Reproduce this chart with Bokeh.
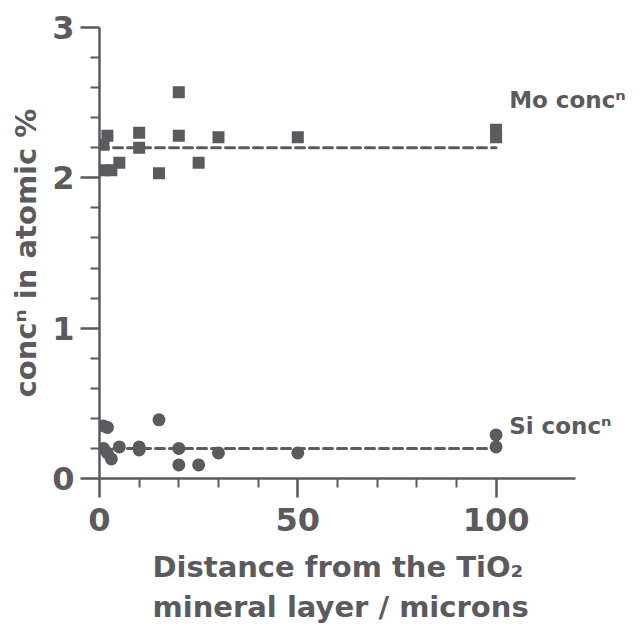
from bokeh.plotting import figure
from bokeh.models import FixedTicker, Label, Range1d, Title
from bokeh.embed import file_html
from bokeh.resources import INLINE

# ---- data ----
mo_x = [1, 2, 1, 3, 5, 10, 10, 15, 20, 20, 25, 30, 50, 100, 100]
mo_y = [2.22, 2.28, 2.05, 2.05, 2.10, 2.30, 2.20, 2.03, 2.57, 2.28, 2.10, 2.27, 2.27, 2.32, 2.27]
si_x = [1, 2, 1, 2, 3, 5, 10, 10, 15, 20, 20, 25, 30, 50, 100, 100]
si_y = [0.35, 0.34, 0.20, 0.17, 0.13, 0.21, 0.21, 0.19, 0.39, 0.20, 0.09, 0.09, 0.17, 0.17, 0.29, 0.21]
mean_x = [0, 100]
mo_mean = 2.20
si_mean = 0.20
x_major = [0, 50, 100]
x_minor = [10, 20, 30, 40, 60, 70, 80, 90]
y_major = [0, 1, 2, 3]
y_minor = [0.2, 0.4, 0.6, 0.8, 1.2, 1.4, 1.6, 1.8, 2.2, 2.4, 2.6, 2.8]
mo_label = "Mo concⁿ"
si_label = "Si concⁿ"
x_title = "Distance from the TiO₂\nmineral layer / microns"
y_title = "concⁿ in atomic %"

INK = "#5a5a5f"
FONT = "DejaVu Sans"

p = figure(output_backend="svg", toolbar_location=None,
           frame_width=533, frame_height=451,
           min_border_left=99, min_border_right=0,
           min_border_top=27, min_border_bottom=4,
           x_range=Range1d(0, 134.4), y_range=Range1d(0, 3))
p.outline_line_color = None
p.grid.visible = False
p.background_fill_color = "white"
p.border_fill_color = "white"

for ax in (p.xaxis[0], p.yaxis[0]):
    ax.axis_line_color = INK
    ax.axis_line_width = 2.5
    ax.major_tick_line_color = INK
    ax.major_tick_line_width = 2.5
    ax.minor_tick_line_color = INK
    ax.minor_tick_line_width = 2
    ax.major_tick_in = 0
    ax.minor_tick_in = 0
    ax.major_tick_out = 19
    ax.minor_tick_out = 9
    ax.major_label_text_font = FONT
    ax.major_label_text_font_style = "bold"
    ax.major_label_text_font_size = "32px"
    ax.major_label_text_color = INK
    ax.axis_label_text_font = FONT
    ax.axis_label_text_font_style = "bold"
    ax.axis_label_text_font_size = "29px"
    ax.axis_label_text_color = INK

p.xaxis[0].bounds = (0, 120)
p.xaxis[0].ticker = FixedTicker(ticks=x_major, minor_ticks=x_minor)
p.yaxis[0].ticker = FixedTicker(ticks=y_major, minor_ticks=y_minor)
p.xaxis[0].major_label_standoff = 10
p.yaxis[0].major_label_standoff = 6
p.yaxis[0].axis_label = y_title
p.yaxis[0].axis_label_standoff = 6

# two-line x-axis title, placed under the 0-120 axis
p.add_layout(Title(text=x_title, align="left", offset=53, standoff=32,
                   vertical_align="top", text_line_height=1.2,
                   text_font=FONT, text_font_style="bold",
                   text_font_size="29px", text_color=INK), "below")

p.line(mean_x, [mo_mean, mo_mean], line_color=INK, line_width=3,
       line_dash="9 5", line_cap="round")
p.line(mean_x, [si_mean, si_mean], line_color=INK, line_width=3,
       line_dash="9 5", line_cap="round")

p.scatter(mo_x, mo_y, marker="square", size=12, fill_color=INK, line_color=None)
p.scatter(si_x, si_y, marker="circle", size=13, fill_color=INK, line_color=None)

for txt, ly in ((mo_label, 2.52), (si_label, 0.35)):
    p.add_layout(Label(x=103.3, y=ly, text=txt, text_font=FONT,
                       text_font_style="bold", text_font_size="23px",
                       text_color=INK, text_baseline="alphabetic"))

open("out.html", "w").write(file_html(p, INLINE))
